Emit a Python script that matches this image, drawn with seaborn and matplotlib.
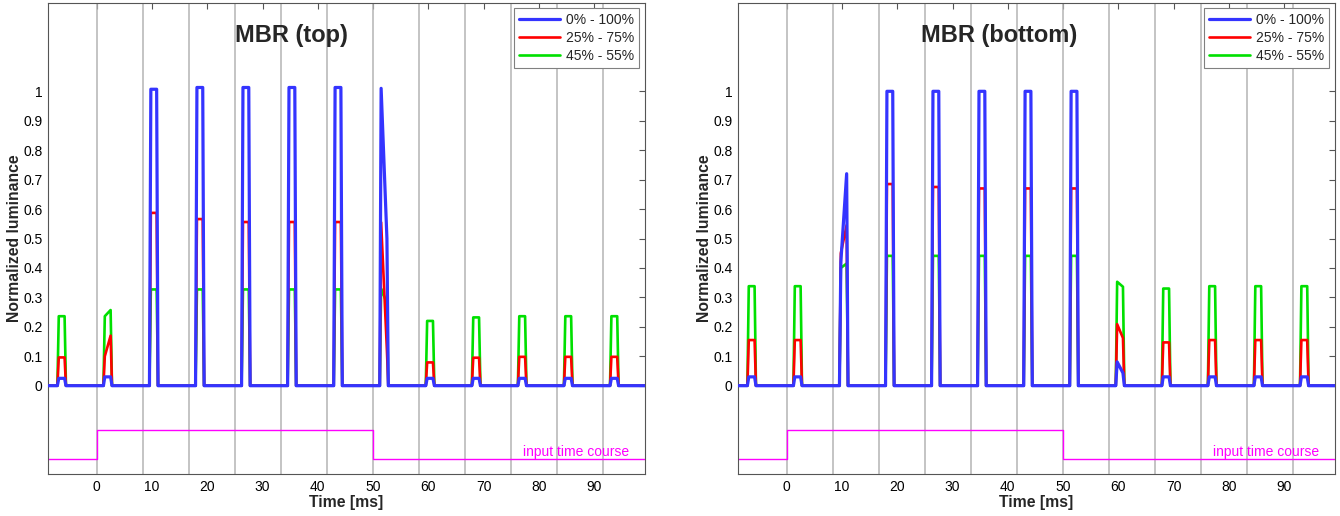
"""
MBR (motion blur reduction) luminance traces, top and bottom of the screen
"""

import matplotlib
matplotlib.use('Agg')
import matplotlib.pyplot as plt
import seaborn as sns

sns.set_theme(style='white')
plt.rcParams['font.family'] = ['Liberation Sans', 'DejaVu Sans']

# Frame (refresh) start times in ms, one flash per frame
frame_starts = [-8.33, 0, 8.33, 16.67, 25, 33.33, 41.67, 50, 58.33, 66.67, 75, 83.33, 91.67]
refresh_lines = [0, 8.33, 16.67, 25, 33.33, 41.67, 50, 58.33, 66.67, 75, 83.33, 91.67]
# flash shape within a frame: rise start, rise end, fall start, fall end (ms after frame start)
flash_offsets = [1.2, 1.45, 2.5, 2.75]
time_span = [-8.83, 99.2]

series_labels = ['0% - 100%', '25% - 75%', '45% - 55%']
series_colors = ['#3434ff', '#ff0000', '#00e000']

# top of screen: flash level at start / end of each flash
top_blue_start = [0.025, 0.03, 1.007, 1.013, 1.013, 1.013, 1.013, 1.01, 0.025, 0.025, 0.025, 0.025, 0.025]
top_blue_end = [0.025, 0.03, 1.007, 1.013, 1.013, 1.013, 1.013, 0.5, 0.025, 0.025, 0.025, 0.025, 0.025]
top_red_start = [0.096, 0.10, 0.587, 0.566, 0.556, 0.556, 0.556, 0.555, 0.079, 0.095, 0.098, 0.098, 0.098]
top_red_end = [0.096, 0.17, 0.587, 0.566, 0.556, 0.556, 0.556, 0.12, 0.079, 0.095, 0.098, 0.098, 0.098]
top_green_start = [0.236, 0.236, 0.327, 0.327, 0.327, 0.327, 0.327, 0.33, 0.22, 0.232, 0.236, 0.236, 0.236]
top_green_end = [0.236, 0.257, 0.327, 0.327, 0.327, 0.327, 0.327, 0.28, 0.22, 0.232, 0.236, 0.236, 0.236]

# bottom of screen
bot_blue_start = [0.03, 0.03, 0.42, 1.0, 1.0, 1.0, 1.0, 1.0, 0.081, 0.03, 0.03, 0.03, 0.03]
bot_blue_end = [0.03, 0.03, 0.72, 1.0, 1.0, 1.0, 1.0, 1.0, 0.043, 0.03, 0.03, 0.03, 0.03]
bot_red_start = [0.155, 0.155, 0.45, 0.685, 0.675, 0.67, 0.67, 0.67, 0.209, 0.147, 0.155, 0.155, 0.155]
bot_red_end = [0.155, 0.155, 0.545, 0.685, 0.675, 0.67, 0.67, 0.67, 0.162, 0.147, 0.155, 0.155, 0.155]
bot_green_start = [0.338, 0.338, 0.40, 0.441, 0.441, 0.441, 0.441, 0.441, 0.353, 0.33, 0.338, 0.338, 0.338]
bot_green_end = [0.338, 0.338, 0.415, 0.441, 0.441, 0.441, 0.441, 0.441, 0.336, 0.33, 0.338, 0.338, 0.338]

# input time course (drawn below the luminance traces)
input_t = [-8.83, 0, 0, 50, 50, 99.2]
input_level = [-0.25, -0.25, -0.15, -0.15, -0.25, -0.25]

x_ticks = [0, 10, 20, 30, 40, 50, 60, 70, 80, 90]
y_ticks = [0, 0.1, 0.2, 0.3, 0.4, 0.5, 0.6, 0.7, 0.8, 0.9, 1]


def build_trace(starts, ends):
    """Polyline vertices for a train of flashes on a zero baseline"""
    t = [time_span[0]]
    y = [0.0]
    for f, s, e in zip(frame_starts, starts, ends):
        t += [f + o for o in flash_offsets]
        y += [0.0, s, e, 0.0]
    t.append(time_span[1])
    y.append(0.0)
    return t, y


def draw_panel(ax, title, title_x, traces):
    for x in refresh_lines:
        ax.axvline(x, color='#b4b4b4', lw=1.1, zorder=1)

    widths = [2.3, 1.9, 1.9]
    zorders = [5, 4, 3]
    for (starts, ends), label, color, lw, z in zip(traces, series_labels,
                                                    series_colors, widths, zorders):
        t, y = build_trace(starts, ends)
        sns.lineplot(x=t, y=y, ax=ax, color=color, lw=lw, sort=False,
                     estimator=None, label=label, zorder=z,
                     solid_joinstyle='round')

    sns.lineplot(x=input_t, y=input_level, ax=ax, color='#ff00ff', lw=1.0,
                 sort=False, estimator=None, zorder=2)
    ax.text(96.3, -0.225, 'input time course', color='#ff00ff', fontsize=10,
            ha='right', va='center')

    ax.text(title_x, 1.19, title, ha='center', va='center',
            fontsize=17, fontweight='bold')

    ax.set_xlim(time_span)
    ax.set_ylim(-0.3, 1.3)
    ax.set_xticks(x_ticks)
    ax.set_yticks(y_ticks)
    ax.set_yticklabels(['%g' % v for v in y_ticks])
    ax.tick_params(direction='in', top=True, right=True, length=4.5, width=0.8,
                   color='#555555', labelcolor='black', labelsize=10, pad=4)
    for sp in ax.spines.values():
        sp.set_color('#555555')
        sp.set_linewidth(0.8)

    ax.set_xlabel('Time [ms]', fontsize=11.3, fontweight='bold', labelpad=1)
    ax.set_ylabel('Normalized luminance', fontsize=11.3, fontweight='bold', labelpad=1)

    leg = ax.legend(loc='upper right', bbox_to_anchor=(0.99, 0.99), borderaxespad=0,
                    fancybox=False, framealpha=1, edgecolor='#808080', fontsize=10,
                    handlelength=3.0, handletextpad=0.4, labelspacing=0.3,
                    borderpad=0.35)
    leg.get_frame().set_linewidth(0.8)


fig = plt.figure(figsize=(13.4, 5.16), dpi=100)
ax_top = fig.add_axes([48 / 1340, 1 - 474 / 516, 597 / 1340, 471 / 516])
ax_bot = fig.add_axes([738 / 1340, 1 - 474 / 516, 597 / 1340, 471 / 516])

draw_panel(ax_top, 'MBR (top)', 35.2,
           [(top_blue_start, top_blue_end), (top_red_start, top_red_end),
            (top_green_start, top_green_end)])
draw_panel(ax_bot, 'MBR (bottom)', 38.5,
           [(bot_blue_start, bot_blue_end), (bot_red_start, bot_red_end),
            (bot_green_start, bot_green_end)])

fig.savefig('out.png', dpi=100)
plt.close(fig)
